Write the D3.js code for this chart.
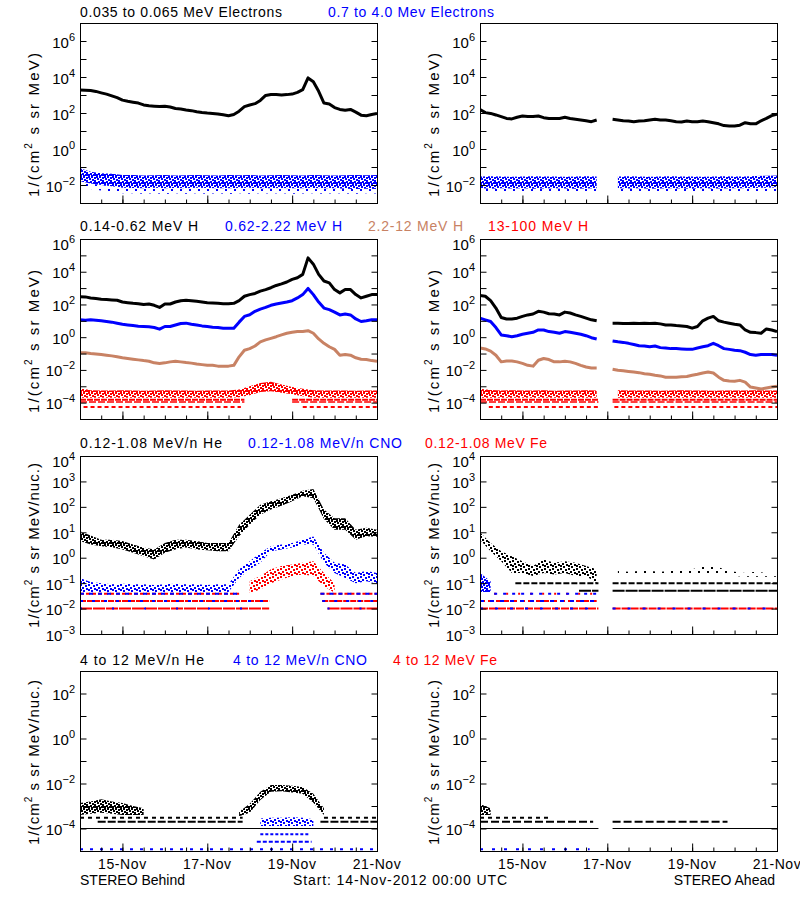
<!DOCTYPE html>
<html><head><meta charset="utf-8">
<script src="https://cdn.jsdelivr.net/npm/d3@7"></script>
<style>
body{margin:0;background:#fff}
svg{display:block}
text{font-family:"Liberation Sans",Arial,Helvetica,sans-serif;fill:#000}
</style>
</head><body>
<svg id="chart" width="800" height="900"></svg>
<script>
// ---------------- time grids (hours after 14-Nov-2012 00:00 UTC) ----------------
const HOURS = [0,3,6,9,12,15,18,21,24,27,30,33,36,39,42,45,48,51,54,57,60,63,66,69,72,75,78,81,84,87,90,93,96,99,102,105,108,111,114,117,120,123,126,129,132,135,138,141,144,147,150,153,156,159,162,165,168];
const HOURS6 = [0,6,12,18,24,30,36,42,48,54,60,66,72,78,84,90,96,102,108,114,120,126,132,138,144,150,156,162,168];
const xTickHours = [12,24,36,48,60,72,84,96,108,120,132,144,156];
const xLabelHours = [24,72,120,168];
const xLabels = ['15-Nov','17-Nov','19-Nov','21-Nov'];

// ---------------- Row 1: electrons ----------------
const behindLowE = [1900,1850,1780,1580,1320,1120,890,710,520,450,400,355,280,250,240,230,235,215,178,166,148,135,117,107,100,95,89,79,71,83,126,224,280,330,500,950,1070,1070,1000,1050,1120,1410,2000,8900,5500,1600,355,316,200,158,141,158,112,76,71,83,93];
const aheadLowE = [158,105,95,78,63,50,47,58,68,63,63,68,55,50,50,50,58,50,45,41,37,33,41,null,null,45,41,37,36,33,36,37,41,45,41,41,37,33,32,36,33,33,36,33,29,25,20,19,19,21,29,25,25,37,50,71,87];
const behindHighEHi = [0.085,0.055,0.045,0.042,0.036,0.036,0.034,0.035,0.036,0.034,0.035,0.036,0.035,0.034,0.036,0.035,0.036,0.034,0.035,0.036,0.035,0.034,0.036,0.035,0.034,0.035,0.036,0.035,0.036];
const behindHighELo = [0.016,0.012,0.01,0.0085,0.007,0.0068,0.0065,0.007,0.0066,0.0068,0.0065,0.007,0.0068,0.0066,0.0065,0.0068,0.007,0.0066,0.0065,0.0068,0.0066,0.0065,0.0068,0.0066,0.0065,0.0062,0.006,0.0062,0.006];
const behindHighEFloor = [0.008,0.006,0.005,0.004,0.0035,0.0035,0.0033,0.0035,0.0032,0.0035,0.0033,0.0035,0.0033,0.0035,0.0032,0.0035,0.0033,0.0035,0.0034,0.0035,0.0033,0.0034,0.0035,0.0033,0.0035,0.0034,0.0033,0.0035,0.0034];
const aheadHighEHi = [0.03,0.031,0.03,0.029,0.03,0.031,0.03,0.03,0.029,0.03,0.031,0.03,null,0.03,0.031,0.03,0.029,0.03,0.031,0.03,0.03,0.029,0.03,0.031,0.03,0.03,0.032,0.033,0.034];
const aheadHighELo = [0.0065,0.0062,0.0065,0.0063,0.0065,0.0062,0.0064,0.0065,0.0063,0.0062,0.0064,0.0065,null,0.0065,0.0063,0.0065,0.0062,0.0064,0.0065,0.0063,0.0062,0.0065,0.0064,0.0063,0.0065,0.0066,0.0068,0.007,0.0072];
const aheadHighEFloor = [0.0038,0.0036,0.0038,0.0037,0.0036,0.0038,0.0037,0.0036,0.0038,0.0037,0.0036,0.0038,null,0.0037,0.0038,0.0036,0.0037,0.0038,0.0036,0.0037,0.0038,0.0036,0.0037,0.0038,0.0036,0.0037,0.0038,0.004,0.0042];

// ---------------- Row 2: protons ----------------
const behindH1 = [300,290,250,230,210,200,190,180,141,129,117,112,98,107,89,66,107,107,141,170,180,170,155,141,129,123,117,112,112,117,170,316,400,470,650,810,1050,1450,1800,2350,3400,4300,6900,70000,29000,6900,2700,2100,810,510,810,810,400,250,316,400,400];
const behindH2 = [11.5,11,11.5,11,10,9.1,8.3,7.2,6.2,5.6,5.1,4.7,4.5,4.3,3.9,3.1,4.5,4.5,5.6,6.9,7.2,6.2,5.6,4.9,4.5,4.1,3.9,3.55,3.55,3.55,8.3,18.6,23.4,38,52,66,89,107,123,141,170,250,400,955,400,141,60,48,34,23,26,23,13,9.1,10,11.5,11.5];
const behindH3 = [0.112,0.112,0.1,0.095,0.087,0.079,0.072,0.063,0.055,0.05,0.045,0.041,0.037,0.034,0.027,0.025,0.027,0.031,0.034,0.031,0.028,0.026,0.023,0.021,0.019,0.019,0.017,0.017,0.017,0.019,0.063,0.16,0.2,0.29,0.52,0.68,0.85,1.07,1.38,1.74,2.0,2.2,2.2,2.5,1.74,0.78,0.42,0.26,0.18,0.079,0.087,0.079,0.055,0.045,0.043,0.037,0.034];
const aheadH1 = [350,316,170,60,16,13,13,14.5,18.6,23,26,38,34,27,26,23,34,30,23,18.6,14.5,11.5,10,null,null,7.2,7.2,6.9,6.9,7.2,6.9,7.2,6.9,7.2,6.5,5.6,5.6,5.1,4.9,4.5,3.55,4.5,10,14.5,18.6,10,8.3,7.2,6.2,5.6,2.75,2.0,1.9,1.74,3.2,2.75,2.2];
const aheadH2 = [14.5,11.5,9.1,3.9,1.38,1.23,1.07,1.23,1.5,1.74,2.0,2.75,2.75,2.2,2.0,1.74,2.2,2.0,1.74,1.5,1.23,0.93,0.78,null,null,0.59,0.52,0.48,0.42,0.36,0.3,0.29,0.26,0.29,0.23,0.22,0.2,0.2,0.19,0.18,0.18,0.22,0.26,0.3,0.42,0.3,0.2,0.18,0.16,0.15,0.12,0.087,0.079,0.087,0.087,0.087,0.079];
const aheadH3 = [0.22,0.19,0.14,0.079,0.031,0.035,0.035,0.031,0.025,0.019,0.017,0.039,0.05,0.043,0.031,0.031,0.034,0.031,0.025,0.019,0.015,0.013,0.013,null,null,0.011,0.0095,0.0089,0.0081,0.0074,0.0068,0.0059,0.0054,0.0047,0.0043,0.0036,0.0036,0.0036,0.0038,0.004,0.0047,0.0054,0.0065,0.0074,0.0065,0.0036,0.0023,0.0021,0.002,0.0023,0.0018,0.00089,0.00078,0.00069,0.00078,0.00089,0.001];
const behindH4Hi = [7.9e-4,5.8e-4,5.6e-4,5.5e-4,5.8e-4,5.6e-4,5.4e-4,5.6e-4,5.8e-4,5.5e-4,5.6e-4,5.4e-4,5.6e-4,5.5e-4,5.6e-4,6.3e-4,1.0e-3,1.6e-3,1.9e-3,1.3e-3,9e-4,7e-4,5.8e-4,5.6e-4,5.5e-4,5.6e-4,5.4e-4,5.6e-4,5.5e-4];
const behindH4Lo = [2e-4,2e-4,2e-4,2e-4,2e-4,2e-4,2e-4,2e-4,2e-4,2e-4,2e-4,2e-4,2e-4,2e-4,2e-4,2.1e-4,2.8e-4,4.5e-4,5e-4,4e-4,3.2e-4,2.5e-4,2e-4,2e-4,2e-4,2e-4,2e-4,2e-4,2e-4];
const aheadH4Hi = [7e-4,6e-4,5.6e-4,5.8e-4,5.5e-4,5.6e-4,5.8e-4,5.4e-4,5.6e-4,5.5e-4,5.7e-4,5.6e-4,null,5.8e-4,5.6e-4,5.5e-4,5.6e-4,5.4e-4,5.6e-4,5.8e-4,5.5e-4,5.6e-4,5.4e-4,5.6e-4,5.5e-4,5.6e-4,5.8e-4,5.5e-4,5.6e-4];
const aheadH4Lo = [2e-4,2e-4,2e-4,2e-4,2e-4,2e-4,2e-4,2e-4,2e-4,2e-4,2e-4,2e-4,null,2e-4,2e-4,2e-4,2e-4,2e-4,2e-4,2e-4,2e-4,2e-4,2e-4,2e-4,2e-4,2e-4,2e-4,2e-4,2e-4];
const hLevelValues = [1.5e-4, 1.1e-4, 5.5e-5];
const behindHLevelSpans = [[[0,93],[120,168]], [[0,93],[120,168]], [[2,91],[126,168]]];
const aheadHLevelSpans = [[[0,67],[75,168]], [[0,67],[75,168]], [[5,67],[76,168]]];

// ---------------- Row 3: 0.12-1.08 MeV/n ions ----------------
const behindHeHi = [11,7.4,5.1,5.1,4.5,3.3,2.5,2.1,3.8,5.1,5.1,4.5,3.8,3.8,3.8,20,49,120,165,220,300,430,500,78,36,36,12.6,15,12.6];
const behindHeLo = [4.5,3.3,2.8,2.6,2.1,1.55,1.15,0.85,1.55,2.1,2.5,2.1,1.95,1.8,1.8,7,20,49,78,110,165,260,220,33,12.6,12.6,5.1,7,6.6];
const behindCnoHi = [0.16,0.11,0.1,0.09,0.095,0.09,0.09,0.085,0.09,0.095,0.09,0.09,0.085,0.09,0.09,0.35,0.72,1.55,2.8,3.3,3.8,5.1,6.9,1.55,0.63,0.54,0.25,0.3,0.25];
const behindCnoLo = [0.045,0.045,0.045,0.045,0.045,0.045,0.045,0.045,0.045,0.045,0.045,0.045,0.045,0.045,0.045,0.16,0.35,0.63,1.78,2.1,2.5,3.3,3.3,0.63,0.25,0.16,0.1,0.12,0.1];
const behindFeHi = [null,null,null,null,null,null,null,null,null,null,null,null,null,null,null,null,0.12,0.19,0.35,0.47,0.54,0.63,0.72,0.25,0.1,null,null,null,null];
const behindFeLo = [null,null,null,null,null,null,null,null,null,null,null,null,null,null,null,null,0.042,0.056,0.1,0.14,0.19,0.22,0.19,0.076,0.042,null,null,null,null];
const aheadHeDenseHi = [10,3.8,1.78,1.15,0.72,0.47,0.85,0.63,0.72,0.63,0.47,0.35,null,null,null,null,null,null,null,null,null,null,null,null,null,null,null,null,null];
const aheadHeDenseLo = [5.1,1.78,0.72,0.25,0.25,0.19,0.25,0.22,0.25,0.19,0.19,0.1,null,null,null,null,null,null,null,null,null,null,null,null,null,null,null,null,null];
const aheadHeSparseHi = [null,null,null,null,null,null,null,null,null,null,null,null,null,0.3,0.28,0.3,0.3,0.28,0.3,0.3,0.35,0.45,0.5,0.35,0.28,0.25,0.28,0.25,0.25];
const aheadHeSparseLo = [null,null,null,null,null,null,null,null,null,null,null,null,null,0.19,0.19,0.19,0.2,0.19,0.2,0.19,0.2,0.25,0.25,0.2,0.19,0.18,0.18,0.18,0.18];
const aheadCnoHi = [0.25,0.12,null,null,null,null,null,null,null,null,null,null,null,null,null,null,null,null,null,null,null,null,null,null,null,null,null,null,null];
const aheadCnoLo = [0.045,0.045,null,null,null,null,null,null,null,null,null,null,null,null,null,null,null,null,null,null,null,null,null,null,null,null,null,null,null];
const ionLevelValues = [3.8e-2, 2e-2, 1e-2];
const behindIonLevelSpans = [[[0,90],[136,168]], [[0,107],[137,168]], [[0,107],[140,168]]];
const aheadIonLevelSpans = [[[8,66]], [[0,66]], [[0,67],[75,168]]];
const aheadHeLevelValues = [0.1, 0.05];
const aheadHeLevelSpans = [[[20,67],[75,168]], [[56,67],[75,168]]];

// ---------------- Row 4: 4-12 MeV/n ions ----------------
const behindHe4Hi = [1.35e-3,1.6e-3,2e-3,1.6e-3,1.35e-3,1e-3,8e-4,null,null,null,null,null,null,null,null,5.6e-4,1.26e-3,4.3e-3,8.5e-3,8.5e-3,7.9e-3,7e-3,3.5e-3,8e-4,null,null,null,null,null];
const behindHe4Lo = [4e-4,4.5e-4,5e-4,4.5e-4,4e-4,4e-4,4e-4,null,null,null,null,null,null,null,null,3.5e-4,5e-4,1.86e-3,4.3e-3,4.5e-3,4e-3,3.5e-3,1.4e-3,4e-4,null,null,null,null,null];
const behindCno4Hi = [null,null,null,null,null,null,null,null,null,null,null,null,null,null,null,null,null,2.8e-4,3e-4,3e-4,3.2e-4,3e-4,2.6e-4,null,null,null,null,null,null];
const behindCno4Lo = [null,null,null,null,null,null,null,null,null,null,null,null,null,null,null,null,null,1.3e-4,1.3e-4,1.3e-4,1.3e-4,1.3e-4,1.3e-4,null,null,null,null,null,null];
const aheadHe4Hi = [1.23e-3,8e-4,null,null,null,null,null,null,null,null,null,null,null,null,null,null,null,null,null,null,null,null,null,null,null,null,null,null,null];
const aheadHe4Lo = [4e-4,4e-4,null,null,null,null,null,null,null,null,null,null,null,null,null,null,null,null,null,null,null,null,null,null,null,null,null,null,null];
const he4LevelValues = [3e-4, 2e-4, 1e-4];
const behindHe4LevelSpans = [[[0,92],[138,168]], [[10,92],[136,168]], [[0,168]]];
const aheadHe4LevelSpans = [[[0,40]], [[0,64],[75,140]], [[0,67],[75,168]]];
const cno4LevelValues = [5.5e-5, 2.6e-5, 1.2e-5];
const behindCno4LevelSpans = [[[102,130]], [[100,131]], [[0,168]]];
const aheadCno4LevelSpans = [[], [], [[0,62]]];

// ---------------- text ----------------
const rowTitles = [
  ['0.035 to 0.065 MeV Electrons','0.7 to 4.0 Mev Electrons'],
  ['0.14-0.62 MeV H','0.62-2.22 MeV H','2.2-12 MeV H','13-100 MeV H'],
  ['0.12-1.08 MeV/n He','0.12-1.08 MeV/n CNO','0.12-1.08 MeV Fe'],
  ['4 to 12 MeV/n He','4 to 12 MeV/n CNO','4 to 12 MeV Fe']
];
const yTitleUnits = ['MeV)','MeV)','MeV/nuc.)','MeV/nuc.)'];
const footer = ['STEREO Behind','Start: 14-Nov-2012 00:00 UTC','STEREO Ahead'];

// ---------------- styles / layout ----------------
const BLACK='#000000', BLUE='#0000ff', RED='#ff0000', BROWN='#c88264';
const titleColors = [[BLACK,BLUE],[BLACK,BLUE,BROWN,RED],[BLACK,BLUE,RED],[BLACK,BLUE,RED]];
const titleX = [[80,328],[80,225,368,488],[80,248,425],[80,233,393]];
const titleW = [[202,166],[118,117,95,100],[142,154,122],[124,134,104]];
const titleY = [17,231,447.5,665];
const COLS = [[80,377],[480,777]];
const ROWS = [
  {top:23, bot:203, dom:[1e-3,1e7], labels:[-2,0,2,4,6], ylen:144},
  {top:239, bot:419, dom:[1e-5,1e6], labels:[-4,-2,0,2,4,6], ylen:143},
  {top:456, bot:634, dom:[1e-3,1e4], labels:[-3,-2,-1,0,1,2,3,4], ylen:165},
  {top:671, bot:851, dom:[1e-5,1e3], labels:[-4,-2,0,2], ylen:165}
];

const svg = d3.select('#chart');
const defs = svg.append('defs');
const PAT = {
  dense:{n:8, cells:[[0,0],[3,0],[6,1],[1,2],[4,3],[6,4],[2,5],[5,6],[0,6],[3,7],[7,6]]},
  medium:{n:8, cells:[[0,0],[5,1],[2,3],[6,4],[3,6],[0,5]]},
  sparse:{n:9, cells:[[0,0],[5,4]]}
};
const patMade = {};
function pat(color, dens){
  const id = 'p' + color.slice(1) + dens;
  if(!patMade[id]){
    patMade[id]=true;
    const p = PAT[dens];
    const pe = defs.append('pattern').attr('id',id).attr('patternUnits','userSpaceOnUse')
      .attr('width',p.n).attr('height',p.n);
    p.cells.forEach(c=>pe.append('rect').attr('x',c[0]).attr('y',c[1]).attr('width',2).attr('height',2).attr('fill',color));
  }
  return 'url(#'+id+')';
}

// panel definitions built from the arrays above
const panels = [
  {r:0,c:0, bands:[{hi:behindHighELo,lo:behindHighEFloor,col:BLUE,d:'sparse'},{hi:behindHighEHi,lo:behindHighELo,col:BLUE,d:'dense'}], lines:[{v:behindLowE,col:BLACK}], levels:[]},
  {r:0,c:1, bands:[{hi:aheadHighELo,lo:aheadHighEFloor,col:BLUE,d:'sparse'},{hi:aheadHighEHi,lo:aheadHighELo,col:BLUE,d:'dense'}], lines:[{v:aheadLowE,col:BLACK}], levels:[]},
  {r:1,c:0, bands:[{hi:behindH4Hi,lo:behindH4Lo,col:RED,d:'dense'}], lines:[{v:behindH3,col:BROWN},{v:behindH2,col:BLUE},{v:behindH1,col:BLACK}],
    levels:[{vals:hLevelValues,spans:behindHLevelSpans,col:RED,dash:['6,1','7,2','4,3'],w:[2,1.5,2]}]},
  {r:1,c:1, bands:[{hi:aheadH4Hi,lo:aheadH4Lo,col:RED,d:'dense'}], lines:[{v:aheadH3,col:BROWN},{v:aheadH2,col:BLUE},{v:aheadH1,col:BLACK}],
    levels:[{vals:hLevelValues,spans:aheadHLevelSpans,col:RED,dash:['6,1','7,2','4,3'],w:[2,1.5,2]}]},
  {r:2,c:0, bands:[{hi:behindCnoHi,lo:behindCnoLo,col:BLUE,d:'medium'},{hi:behindFeHi,lo:behindFeLo,col:RED,d:'medium'},{hi:behindHeHi,lo:behindHeLo,col:BLACK,d:'dense'}], lines:[],
    levels:[{vals:ionLevelValues,spans:behindIonLevelSpans,col:RED,dash:['4,2','6,1','12,1'],w:[2,2,2]},
            {vals:ionLevelValues,spans:behindIonLevelSpans,col:BLUE,dash:['4,5','3,9','2,30'],w:[2,2,2]}]},
  {r:2,c:1, bands:[{hi:aheadCnoHi,lo:aheadCnoLo,col:BLUE,d:'dense'},{hi:aheadHeDenseHi,lo:aheadHeDenseLo,col:BLACK,d:'medium'},{hi:aheadHeSparseHi,lo:aheadHeSparseLo,col:BLACK,d:'sparse'}], lines:[],
    levels:[{vals:ionLevelValues,spans:aheadIonLevelSpans,col:RED,dash:['2,10','5,3','8,1'],w:[2,2,2]},
            {vals:ionLevelValues,spans:aheadIonLevelSpans,col:BLUE,dash:['3,6','4,6','3,12'],w:[2,2,2]},
            {vals:aheadHeLevelValues,spans:aheadHeLevelSpans,col:BLACK,dash:['6,2','12,1'],w:[2,2]}]},
  {r:3,c:0, bands:[{hi:behindCno4Hi,lo:behindCno4Lo,col:BLUE,d:'medium'},{hi:behindHe4Hi,lo:behindHe4Lo,col:BLACK,d:'dense'}], lines:[],
    levels:[{vals:he4LevelValues,spans:behindHe4LevelSpans,col:BLACK,dash:['4,4','8,2',null],w:[2,2,1]},
            {vals:cno4LevelValues,spans:behindCno4LevelSpans,col:BLUE,dash:['3,2','4,2','3,7'],w:[2,2,2]}]},
  {r:3,c:1, bands:[{hi:aheadHe4Hi,lo:aheadHe4Lo,col:BLACK,d:'dense'}], lines:[],
    levels:[{vals:he4LevelValues,spans:aheadHe4LevelSpans,col:BLACK,dash:['4,4','8,3',null],w:[2,2,1]},
            {vals:cno4LevelValues,spans:aheadCno4LevelSpans,col:BLUE,dash:['3,2','4,2','3,9'],w:[2,2,2]}]}
];

function supText(sel, base, exp, expSize, dy){
  sel.append('tspan').text(base);
  sel.append('tspan').attr('font-size',expSize).attr('dy',dy).text(exp);
}

panels.forEach((P,pi)=>{
  const R = ROWS[P.r], [x0,x1] = COLS[P.c];
  const x = d3.scaleLinear().domain([0,168]).range([x0,x1]);
  const y = d3.scaleLog().domain(R.dom).range([R.bot,R.top]);
  const g = svg.append('g');
  const cid = 'clip'+pi;
  defs.append('clipPath').attr('id',cid).append('rect')
    .attr('x',x0).attr('y',R.top).attr('width',x1-x0).attr('height',R.bot-R.top);
  const pg = g.append('g').attr('clip-path','url(#'+cid+')');

  // level (quantized count) lines
  P.levels.forEach(L=>{
    L.vals.forEach((v,k)=>{
      L.spans[k].forEach(s=>{
        const ln = pg.append('line').attr('x1',x(s[0])).attr('x2',x(s[1]))
          .attr('y1',y(v)).attr('y2',y(v)).attr('stroke',L.col).attr('stroke-width',L.w[k]);
        if(L.dash[k]) ln.attr('stroke-dasharray',L.dash[k]);
      });
    });
  });
  // scattered bands
  P.bands.forEach(B=>{
    const area = d3.area()
      .defined((h,i)=>B.hi[i]!=null && B.lo[i]!=null)
      .x(h=>x(h)).y0((h,i)=>y(B.lo[i])).y1((h,i)=>y(B.hi[i]));
    pg.append('path').datum(HOURS6).attr('d',area).attr('fill',pat(B.col,B.d));
  });
  // continuous series
  P.lines.forEach(Ls=>{
    const line = d3.line().defined(d=>d[1]!=null).x(d=>x(d[0])).y(d=>y(d[1]));
    pg.append('path').datum(HOURS.map((h,i)=>[h,Ls.v[i]])).attr('d',line)
      .attr('fill','none').attr('stroke',Ls.col).attr('stroke-width',3).attr('stroke-linejoin','round');
  });

  // frame
  g.append('rect').attr('x',x0+0.5).attr('y',R.top+0.5).attr('width',x1-x0).attr('height',R.bot-R.top)
    .attr('fill','none').attr('stroke','#000').attr('stroke-width',1);

  // y ticks (every decade, both sides, inward)
  const e0 = Math.round(Math.log10(R.dom[0])), e1 = Math.round(Math.log10(R.dom[1]));
  const decades = d3.range(e0+1, e1).map(e=>Math.pow(10,e));
  const yl = g.append('g').attr('transform',`translate(${x0+0.5},0)`)
    .call(d3.axisLeft(y).tickValues(decades).tickSizeInner(-6).tickSizeOuter(0).tickFormat(()=>''));
  const yr = g.append('g').attr('transform',`translate(${x1+0.5},0)`)
    .call(d3.axisRight(y).tickValues(decades).tickSizeInner(-6).tickSizeOuter(0).tickFormat(()=>''));
  [yl,yr].forEach(a=>{a.select('.domain').remove(); a.selectAll('line').attr('stroke','#000');});

  // y tick labels 10^n (label at the top edge sits a little lower, as in the original)
  R.labels.forEach(e=>{
    const ty = y(Math.pow(10,e));
    const nudge = (ty - R.top < 2) ? 4 : 0;
    const t = g.append('text').attr('x',x0-5).attr('y',ty+6.5+nudge)
      .attr('text-anchor','end').attr('font-size',15);
    supText(t,'10', e<0 ? '\u2212'+(-e) : ''+e, 11, -7);
  });

  // x ticks (every 12 h, longer each 2 days)
  const xb = g.append('g').attr('transform',`translate(0,${R.bot+0.5})`)
    .call(d3.axisBottom(x).tickValues(xTickHours).tickSizeInner(-4).tickSizeOuter(0).tickFormat(()=>''));
  xb.select('.domain').remove();
  xb.selectAll('line').attr('stroke','#000');
  const xm = g.append('g').attr('transform',`translate(0,${R.bot+0.5})`)
    .call(d3.axisBottom(x).tickValues(xLabelHours.filter(h=>h<168)).tickSizeInner(-8).tickSizeOuter(0).tickFormat(()=>''));
  xm.select('.domain').remove();
  xm.selectAll('line').attr('stroke','#000');

  if(P.r===3){
    xLabelHours.forEach((h,k)=>{
      g.append('text').attr('x',x(h)).attr('y',869).attr('text-anchor','middle')
        .attr('font-size',14).attr('letter-spacing',0.6).text(xLabels[k]);
    });
  }

  // y-axis title
  const yt = g.append('text')
    .attr('transform',`translate(${x0-41},${R.bot-6}) rotate(-90)`)
    .attr('font-size',15).attr('textLength',R.ylen).attr('lengthAdjust','spacing');
  yt.append('tspan').text('1/(cm');
  yt.append('tspan').attr('font-size',10).attr('dy',-7).text('2');
  yt.append('tspan').attr('dy',7).text(' s sr ' + yTitleUnits[P.r]);
});

// row titles
rowTitles.forEach((row,r)=>{
  row.forEach((t,k)=>{
    svg.append('text').attr('x',titleX[r][k]).attr('y',titleY[r])
      .attr('font-size',14).attr('textLength',titleW[r][k]).attr('lengthAdjust','spacing')
      .style('fill',titleColors[r][k]).text(t);
  });
});

// footer
svg.append('text').attr('x',80).attr('y',885).attr('font-size',14).text(footer[0]);
svg.append('text').attr('x',293).attr('y',885).attr('font-size',14).attr('textLength',214).attr('lengthAdjust','spacing').text(footer[1]);
svg.append('text').attr('x',775).attr('y',885).attr('font-size',14).attr('text-anchor','end').text(footer[2]);
</script>
</body></html>
